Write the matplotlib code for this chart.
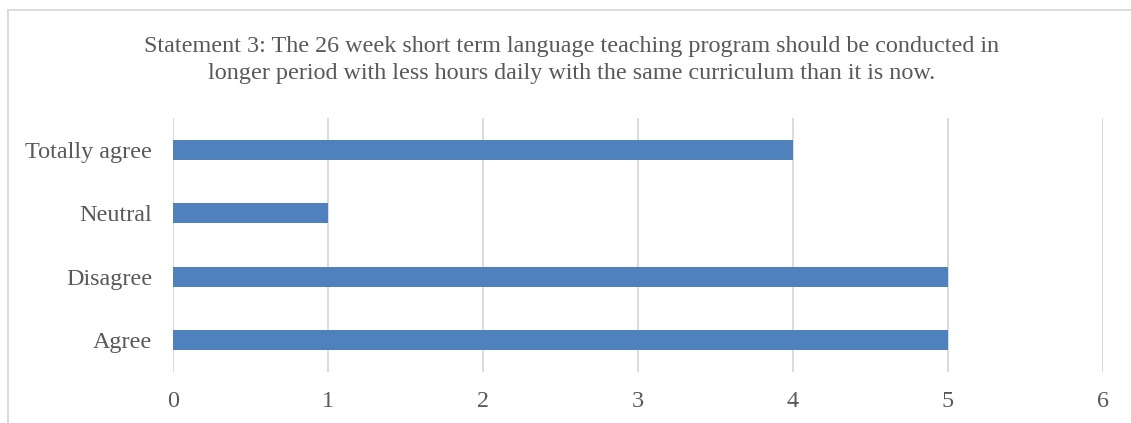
import numpy as np
import matplotlib.pyplot as plt
from matplotlib.lines import Line2D

# Survey responses for statement 3
categories = ['Agree', 'Disagree', 'Neutral', 'Totally agree']
counts = [5, 5, 1, 4]
xticks = [0, 1, 2, 3, 4, 5, 6]
title = ('Statement 3: The 26 week short term language teaching program should be conducted in\n'
         'longer period with less hours daily with the same curriculum than it is now.')

plt.rcParams['font.family'] = ['Liberation Serif', 'DejaVu Serif']
txt = '#595959'
grid = '#d9d9d9'

fig = plt.figure(figsize=(11.31, 4.23), dpi=100)
ax = fig.add_axes([173/1131, 1 - 372/423, 930/1131, 254/423])

y = np.arange(len(categories))
ax.barh(y, counts, height=0.315, color='#4f81bd', zorder=3)
ax.set_ylim(-0.5, len(categories) - 0.5)
ax.set_xlim(0, 6)
ax.set_xticks(xticks)
ax.set_xticklabels([str(t) for t in xticks])
ax.set_yticks(y)
ax.set_yticklabels(categories)
ax.tick_params(axis='both', length=0, labelsize=17.4, colors=txt)
ax.tick_params(axis='y', pad=15)
ax.tick_params(axis='x', pad=14)
ax.xaxis.grid(True, color=grid, lw=1.3, zorder=0)
for s in ax.spines.values():
    s.set_visible(False)

fig.text(0.505, 1 - 60/423, title, ha='center', va='center', fontsize=17.4,
         color=txt, linespacing=1.42)

# chart area border (only left and top visible in the crop)
fig.add_artist(Line2D([8/1131, 8/1131], [0, 1 - 10/423], transform=fig.transFigure, color=grid, lw=1.3))
fig.add_artist(Line2D([8/1131, 1], [1 - 10/423, 1 - 10/423], transform=fig.transFigure, color=grid, lw=1.3))

fig.savefig('out.png', dpi=100)
